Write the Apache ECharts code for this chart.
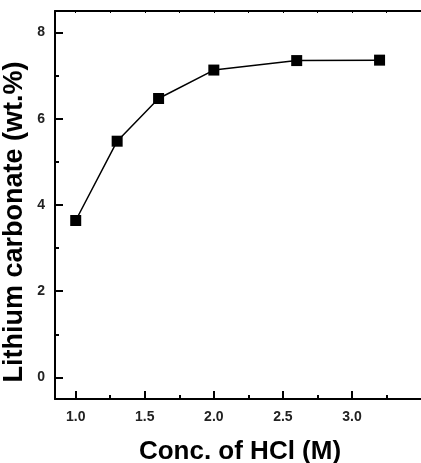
<!DOCTYPE html>
<html>
<head>
<meta charset="utf-8">
<script src="https://cdn.jsdelivr.net/npm/echarts@6/dist/echarts.min.js"></script>
<style>
html,body{margin:0;padding:0;background:#fff;}
#c{width:421px;height:463px;}
</style>
</head>
<body>
<div id="c"></div>
<script>
const concentrations = [1.0, 1.3, 1.6, 2.0, 2.6, 3.2];
const carbonateWt = [3.64, 5.48, 6.47, 7.13, 7.35, 7.36];
const xMajorTicks = [1.0, 1.5, 2.0, 2.5, 3.0];
const xMinorTicks = [1.25, 1.75, 2.25, 2.75, 3.25];
const xTopTicks = [1.0, 1.25, 1.5, 1.75, 2.0, 2.25, 2.5, 2.75, 3.0, 3.25];
const yMajorTicks = [0, 2, 4, 6, 8];
const yMinorTicks = [1, 3, 5, 7];
const xTitle = 'Conc. of HCl (M)';
const yTitle = 'Lithium carbonate (wt.%)';

const FONT = '"Liberation Sans", Arial, sans-serif';
const chart = echarts.init(document.getElementById('c'), null, {renderer: 'canvas'});
const lineStyle = {color: '#000', width: 2};
const xRange = {min: 0.85, max: 3.5};
const yRange = {min: -0.5, max: 8.5};

chart.setOption({
  animation: false,
  backgroundColor: '#fff',
  grid: {left: 55, top: 11, right: -10, bottom: 64, containLabel: false},
  xAxis: [
    {
      type: 'value', position: 'bottom', ...xRange,
      axisLine: {onZero: false, lineStyle},
      axisTick: {inside: true, length: 8, lineStyle, customValues: xMajorTicks},
      axisLabel: {customValues: xMajorTicks, formatter: v => v.toFixed(1), margin: 11,
        fontFamily: FONT, fontWeight: 'bold', fontSize: 14, color: '#222'},
      splitLine: {show: false}
    },
    {
      type: 'value', position: 'bottom', ...xRange,
      axisLine: {show: false, onZero: false},
      axisTick: {inside: true, length: 4, lineStyle, customValues: xMinorTicks},
      axisLabel: {show: false},
      splitLine: {show: false}
    },
    {
      type: 'value', position: 'top', ...xRange,
      axisLine: {onZero: false, lineStyle},
      axisTick: {inside: true, length: 2, lineStyle: {color: '#000', width: 1}, customValues: xTopTicks},
      axisLabel: {show: false},
      splitLine: {show: false}
    }
  ],
  yAxis: [
    {
      type: 'value', position: 'left', ...yRange,
      axisLine: {show: true, onZero: false, lineStyle},
      axisTick: {show: true, inside: true, length: 8, lineStyle, customValues: yMajorTicks},
      axisLabel: {customValues: yMajorTicks, margin: 10,
        fontFamily: FONT, fontWeight: 'bold', fontSize: 14, color: '#222'},
      splitLine: {show: false}
    },
    {
      type: 'value', position: 'left', offset: 0, ...yRange,
      axisLine: {show: false, onZero: false},
      axisTick: {show: true, inside: true, length: 4, lineStyle, customValues: yMinorTicks},
      axisLabel: {show: false},
      splitLine: {show: false}
    }
  ],
  series: [{
    type: 'line',
    xAxisIndex: 0, yAxisIndex: 0,
    data: concentrations.map((x, i) => [x, carbonateWt[i]]),
    symbol: 'rect', symbolSize: 11,
    itemStyle: {color: '#000'},
    lineStyle: {color: '#000', width: 1.5}
  }],
  graphic: [
    {type: 'text', x: 240, y: 452,
      style: {text: xTitle, font: 'bold 26px ' + FONT, fill: '#000', textAlign: 'center', textVerticalAlign: 'middle'}},
    {type: 'text', x: 15, y: 222, rotation: Math.PI / 2,
      style: {text: yTitle, font: 'bold 27px ' + FONT, fill: '#000', textAlign: 'center', textVerticalAlign: 'middle'}}
  ]
});
</script>
</body>
</html>
